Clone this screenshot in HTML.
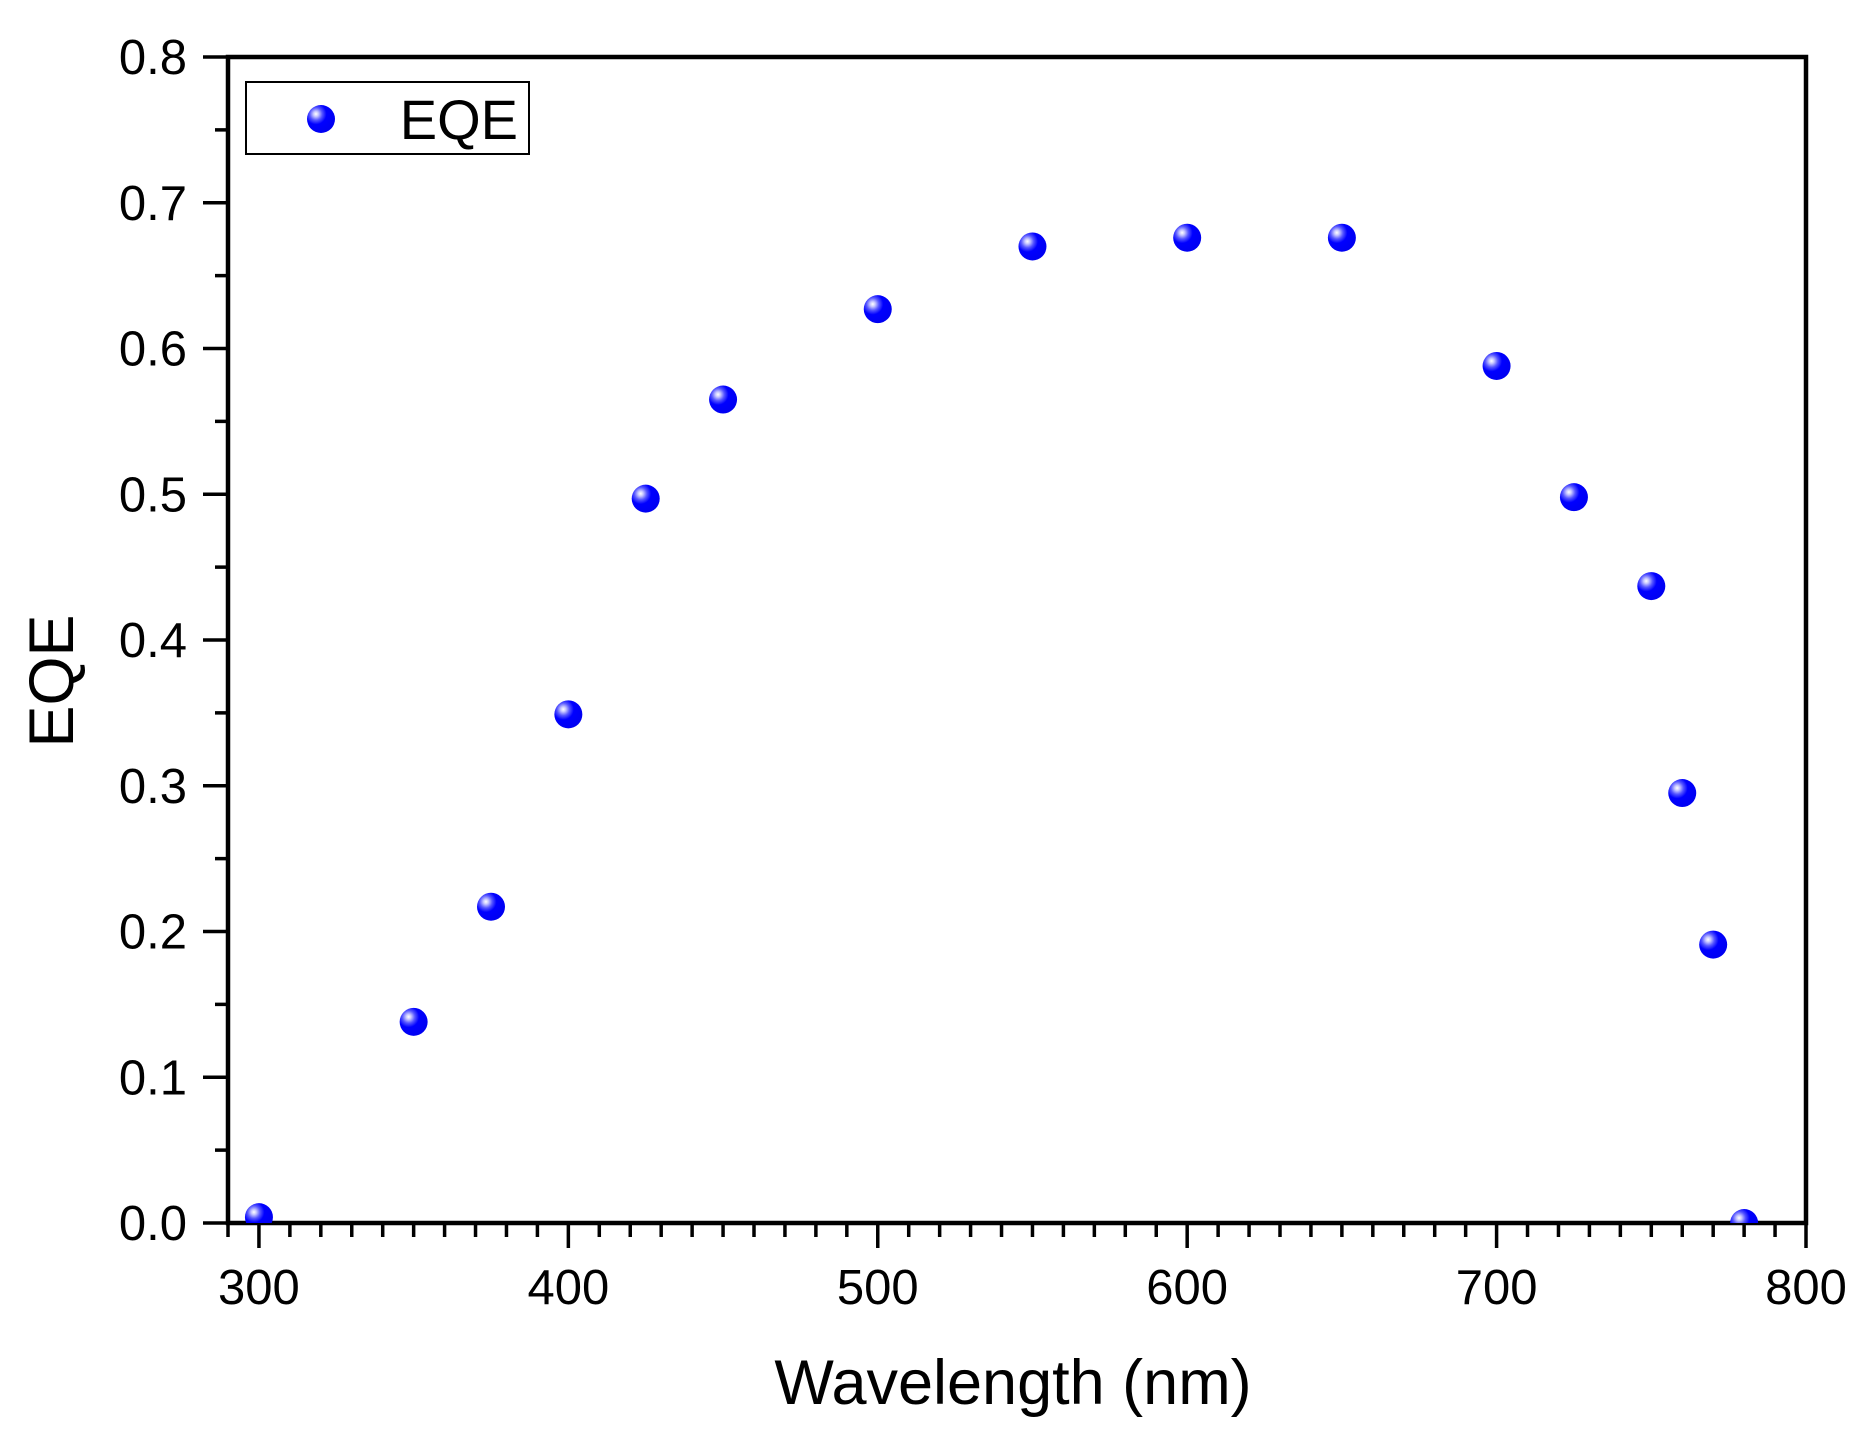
<!DOCTYPE html>
<html><head><meta charset="utf-8"><style>html,body{margin:0;padding:0;background:#fff}svg{display:block}</style></head>
<body>
<svg id="chart" width="1869" height="1440" viewBox="0 0 1869 1440" xmlns="http://www.w3.org/2000/svg" font-family="Liberation Sans, Arial, sans-serif">
<defs>
<radialGradient id="ball" cx="0.32" cy="0.32" r="0.75">
<stop offset="0" stop-color="#ffffff"/>
<stop offset="0.12" stop-color="#c8c8ff"/>
<stop offset="0.3" stop-color="#5555ff"/>
<stop offset="0.5" stop-color="#0000ff"/>
<stop offset="1" stop-color="#0000f0"/>
</radialGradient>
<clipPath id="plotclip"><rect x="228" y="57" width="1578" height="1166"/></clipPath>
</defs>
<g id="axes"></g>
<g id="marks" clip-path="url(#plotclip)"></g>
<g>
<rect x="246" y="82" width="283" height="72" fill="#fff" stroke="#000" stroke-width="2"/>
<circle cx="321" cy="119" r="14" fill="url(#ball)"/>
<text x="518" y="139" font-size="56" text-anchor="end">EQE</text>
</g>
<text x="1013" y="1404" font-size="63" text-anchor="middle">Wavelength (nm)</text>
<text transform="translate(73,681) rotate(-90)" font-size="63" text-anchor="middle">EQE</text>
</svg>
<script>
const wavelengths = [300,350,375,400,425,450,500,550,600,650,700,725,750,760,770,780];
const eqeValues = [0.004,0.138,0.217,0.349,0.497,0.565,0.627,0.670,0.676,0.676,0.588,0.498,0.437,0.295,0.191,0.0];
const xTicks = [300,400,500,600,700,800];
const yTicks = [0.0,0.1,0.2,0.3,0.4,0.5,0.6,0.7,0.8];
const xTickLabels = ["300","400","500","600","700","800"];
const yTickLabels = ["0.0","0.1","0.2","0.3","0.4","0.5","0.6","0.7","0.8"];

const X0=228,X1=1806,Y0=1223,Y1=57, XMIN=290,XMAX=800,YMIN=0,YMAX=0.8;
function xs(v){return X0+(v-XMIN)/(XMAX-XMIN)*(X1-X0);}
function ys(v){return Y0-(v-YMIN)/(YMAX-YMIN)*(Y0-Y1);}
const NS="http://www.w3.org/2000/svg";
const axes=document.getElementById('axes');
const marks=document.getElementById('marks');
function mk(tag,attrs,parent){const e=document.createElementNS(NS,tag);for(const k in attrs)e.setAttribute(k,attrs[k]);parent.appendChild(e);return e;}

const frame=mk('rect',{x:X0,y:Y1,width:X1-X0,height:Y0-Y1,fill:'none',stroke:'#000','stroke-width':4.5},axes);



for(let v=XMIN;v<=XMAX;v+=10){
  if(v%100===0) continue;
  const t=mk('line',{x1:xs(v),x2:xs(v),y1:Y0,y2:Y0+14,stroke:'#000','stroke-width':3.5},axes);
  
  
}
xTicks.forEach((v,i)=>{
  const t=mk('line',{x1:xs(v),x2:xs(v),y1:Y0,y2:Y0+25,stroke:'#000','stroke-width':3.5},axes);
  
  
  const l=mk('text',{x:xs(v),y:1304,'font-size':49,'text-anchor':'middle'},axes);
  l.textContent=xTickLabels[i];
  
  
});
for(let i=0;i<yTicks.length-1;i++){
  const v=(yTicks[i]+yTicks[i+1])/2;
  const t=mk('line',{x1:X0-13,x2:X0,y1:ys(v),y2:ys(v),stroke:'#000','stroke-width':3.5},axes);
  
  
}
yTicks.forEach((v,i)=>{
  const t=mk('line',{x1:X0-25,x2:X0,y1:ys(v),y2:ys(v),stroke:'#000','stroke-width':3.5},axes);
  
  
  const l=mk('text',{x:187,y:ys(v)+17,'font-size':49,'text-anchor':'end'},axes);
  l.textContent=yTickLabels[i];
  
  
});
wavelengths.forEach((w,i)=>{
  const c=mk('circle',{cx:xs(w),cy:ys(eqeValues[i]),r:14,fill:'url(#ball)'},marks);
  
  
});
</script>
</body></html>
